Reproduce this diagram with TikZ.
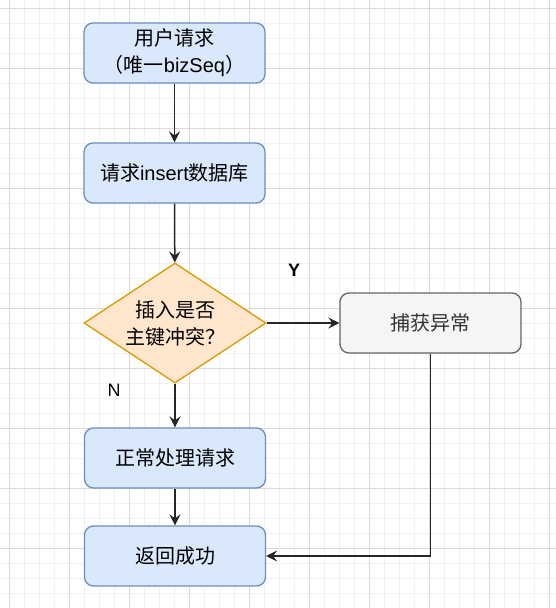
\documentclass[tikz,border=0pt]{standalone}
\usepackage{fontspec}
\setmainfont{Liberation Sans}
\newfontfamily\cjk{Noto Sans CJK SC}
\usetikzlibrary{positioning,shapes.geometric,arrows.meta}
\definecolor{boxblue}{HTML}{DAE8FC}
\definecolor{lineblue}{HTML}{6C8EBF}
\definecolor{boxorange}{HTML}{FFE6CC}
\definecolor{lineorange}{HTML}{D79B00}
\definecolor{boxgray}{HTML}{F5F5F5}
\definecolor{linegray}{HTML}{666666}
\definecolor{flowgray}{HTML}{262626}
\definecolor{gridmajor}{HTML}{DADADA}
\definecolor{gridminor}{HTML}{F1F1F1}

\begin{document}
\begin{tikzpicture}[x=1pt,y=-1pt,
  minorgrid/.style={draw=gridminor,line width=1pt},
  majorgrid/.style={draw=gridmajor,line width=1pt},
  procbox/.style={draw=lineblue,fill=boxblue,rounded corners=9pt,line width=1.3pt,
    minimum width=181pt,minimum height=60pt,align=center,
    font=\fontsize{20pt}{27pt}\selectfont},
  catchbox/.style={procbox,draw=linegray,fill=boxgray,text=black!80},
  decision/.style={diamond,aspect=1.5,draw=lineorange,fill=boxorange,line width=1.3pt,
    minimum width=182pt,minimum height=120pt,inner sep=0pt,align=center,
    font=\fontsize{20pt}{27pt}\selectfont},
  flow/.style={draw=flowgray,line width=1.5pt,
    -{Stealth[length=11pt,width=11pt,inset=4pt]}},
  branch/.style={font=\fontsize{18pt}{20pt}\selectfont}]
\useasboundingbox (0,0) rectangle (556,608);
\fill[white] (0,0) rectangle (556,608);
%grid
\foreach \k in {0,...,36} \draw[minorgrid] ({9.3+15*\k},0) -- ({9.3+15*\k},608);
\foreach \k in {0,...,39} \draw[minorgrid] (0,{8.3+15*\k}) -- (556,{8.3+15*\k});
\foreach \k in {0,...,9} \draw[majorgrid] ({9.3+60*\k},0) -- ({9.3+60*\k},608);
\foreach \k in {0,...,9} \draw[majorgrid] (0,{8.3+60*\k}) -- (556,{8.3+60*\k});
%steps
\node[procbox] (request) at (174.5,53) {{\cjk 用户请求}\\{\cjk （唯一}bizSeq{\cjk ）}};
\node[procbox] (insert) at (174.5,173) {{\cjk 请求}insert{\cjk 数据库}};
\node[decision] (conflict) at (175,323) {{\cjk 插入是否}\\{\cjk 主键冲突？}};
\node[catchbox] (catch) at (430.5,323) {{\cjk 捕获异常}};
\node[procbox] (handle) at (175,458) {{\cjk 正常处理请求}};
\node[procbox] (done) at (175,556) {{\cjk 返回成功}};
%labels
\node[branch,font=\bfseries\fontsize{18pt}{20pt}\selectfont] (yes) at (294,270) {Y};
\node[branch] (no) at (114,390) {N};
%arrows
\draw[flow] (request) -- (insert);
\draw[flow] (insert) -- (conflict);
\draw[flow] (conflict) -- (catch);
\draw[flow] (conflict) -- (handle);
\draw[flow] (handle) -- (done);
\draw[flow] (catch.south) |- (done.east);
\end{tikzpicture}
\end{document}
